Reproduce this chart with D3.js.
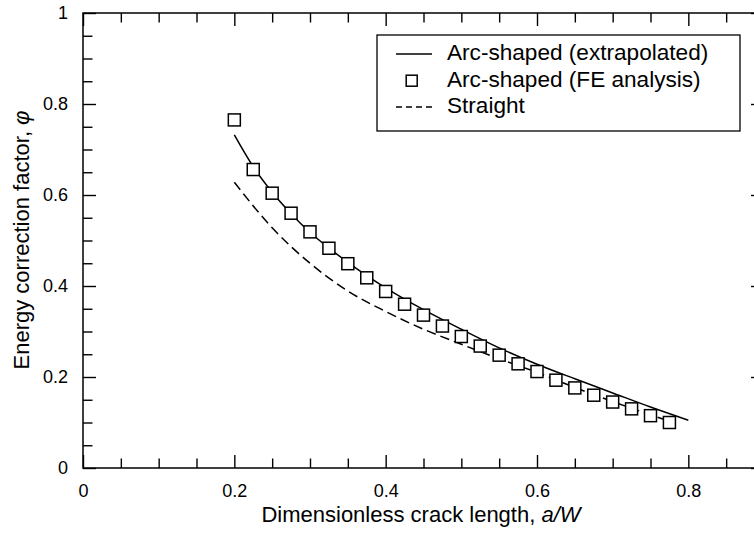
<!DOCTYPE html>
<html>
<head>
<meta charset="utf-8">
<script src="https://cdn.jsdelivr.net/npm/d3@7"></script>
<style>
  body { margin: 0; background: #fff; }
  svg { display: block; }
  text { font-family: "Liberation Sans", Arial, sans-serif; fill: #000; }
</style>
</head>
<body>
<svg id="chart" width="754" height="533"></svg>
<script>
// Arc-shaped crack, FE analysis results
const feX = [0.2, 0.225, 0.25, 0.275, 0.3, 0.325, 0.35, 0.375, 0.4, 0.425, 0.45, 0.475,
             0.5, 0.525, 0.55, 0.575, 0.6, 0.625, 0.65, 0.675, 0.7, 0.725, 0.75, 0.775];
const feY = [0.765, 0.656, 0.604, 0.560, 0.519, 0.483, 0.449, 0.418, 0.388, 0.360, 0.336, 0.312,
             0.289, 0.268, 0.248, 0.229, 0.212, 0.193, 0.176, 0.160, 0.145, 0.130, 0.115, 0.100];

// Arc-shaped crack, extrapolated curve
const arcX = [0.2, 0.225, 0.25, 0.275, 0.3, 0.35, 0.4, 0.45, 0.5, 0.55, 0.6, 0.65, 0.7, 0.75, 0.8];
const arcY = [0.732, 0.662, 0.606, 0.559, 0.518, 0.452, 0.396, 0.348, 0.305, 0.264, 0.228, 0.196, 0.165, 0.134, 0.105];

// Straight crack
const straightX = [0.2, 0.25, 0.3, 0.35, 0.4, 0.45, 0.5, 0.55, 0.6, 0.65, 0.7, 0.75, 0.775];
const straightY = [0.628, 0.528, 0.450, 0.389, 0.344, 0.305, 0.272, 0.240, 0.210, 0.177, 0.146, 0.117, 0.103];

// Axis ticks
const xMajor = [0, 0.2, 0.4, 0.6, 0.8];
const xMajorLabels = ["0", "0.2", "0.4", "0.6", "0.8"];
const xMinor = [0.05, 0.1, 0.15, 0.25, 0.3, 0.35, 0.45, 0.5, 0.55, 0.65, 0.7, 0.75, 0.85];
const yMajor = [0, 0.2, 0.4, 0.6, 0.8, 1];
const yMajorLabels = ["0", "0.2", "0.4", "0.6", "0.8", "1"];
const yMinor = [0.05, 0.1, 0.15, 0.25, 0.3, 0.35, 0.45, 0.5, 0.55, 0.65, 0.7, 0.75, 0.85, 0.9, 0.95];

const legendItems = ["Arc-shaped (extrapolated)", "Arc-shaped (FE analysis)", "Straight"];

const svg = d3.select("#chart");
const L = 83, R = 764, T = 13, B = 468;
const x = d3.scaleLinear().domain([0, 0.9]).range([L, R]);
const y = d3.scaleLinear().domain([0, 1]).range([B, T]);

const majorLen = 13, minorLen = 9.5;

function styleAxis(g) {
  g.select(".domain").remove();
  g.selectAll(".tick line").attr("stroke", "#000").attr("stroke-width", 1.4);
  g.selectAll(".tick text").attr("font-size", 18).attr("fill", "#000")
    .style("font-family", "'Liberation Sans', Arial, sans-serif");
}

// bottom
svg.append("g").attr("transform", `translate(0,${B})`)
  .call(d3.axisBottom(x).tickValues(xMajor).tickFormat((d, i) => xMajorLabels[i])
    .tickSizeInner(-majorLen).tickSizeOuter(0).tickPadding(16))
  .call(styleAxis);
svg.append("g").attr("transform", `translate(0,${B})`)
  .call(d3.axisBottom(x).tickValues(xMinor).tickFormat("").tickSizeInner(-minorLen).tickSizeOuter(0))
  .call(styleAxis);
// top
svg.append("g").attr("transform", `translate(0,${T})`)
  .call(d3.axisTop(x).tickValues(xMajor).tickFormat("").tickSizeInner(-majorLen).tickSizeOuter(0))
  .call(styleAxis);
svg.append("g").attr("transform", `translate(0,${T})`)
  .call(d3.axisTop(x).tickValues(xMinor).tickFormat("").tickSizeInner(-minorLen).tickSizeOuter(0))
  .call(styleAxis);
// left
svg.append("g").attr("transform", `translate(${L},0)`)
  .call(d3.axisLeft(y).tickValues(yMajor).tickFormat((d, i) => yMajorLabels[i])
    .tickSizeInner(-majorLen).tickSizeOuter(0).tickPadding(15))
  .call(styleAxis);
svg.append("g").attr("transform", `translate(${L},0)`)
  .call(d3.axisLeft(y).tickValues(yMinor).tickFormat("").tickSizeInner(-minorLen).tickSizeOuter(0))
  .call(styleAxis);
// right
svg.append("g").attr("transform", `translate(${R},0)`)
  .call(d3.axisRight(y).tickValues(yMajor).tickFormat("").tickSizeInner(-majorLen).tickSizeOuter(0))
  .call(styleAxis);
svg.append("g").attr("transform", `translate(${R},0)`)
  .call(d3.axisRight(y).tickValues(yMinor).tickFormat("").tickSizeInner(-minorLen).tickSizeOuter(0))
  .call(styleAxis);

// frame
svg.append("rect").attr("x", L).attr("y", T).attr("width", R - L).attr("height", B - T)
  .attr("fill", "none").attr("stroke", "#000").attr("stroke-width", 1.5);

const line = d3.line().x(d => x(d[0])).y(d => y(d[1])).curve(d3.curveMonotoneX);

// straight crack (dashed)
svg.append("path").datum(d3.zip(straightX, straightY))
  .attr("d", line).attr("fill", "none").attr("stroke", "#000")
  .attr("stroke-width", 1.5).attr("stroke-dasharray", "9.5,5");

// arc-shaped extrapolated (solid)
svg.append("path").datum(d3.zip(arcX, arcY))
  .attr("d", line).attr("fill", "none").attr("stroke", "#000").attr("stroke-width", 1.5);

// FE analysis squares
const sq = 12;
svg.append("g").selectAll("rect").data(d3.zip(feX, feY)).join("rect")
  .attr("x", d => x(d[0]) - sq / 2).attr("y", d => y(d[1]) - sq / 2)
  .attr("width", sq).attr("height", sq)
  .attr("fill", "#fff").attr("stroke", "#000").attr("stroke-width", 1.5);

// axis titles
const xt = svg.append("text").attr("x", 421).attr("y", 522)
  .attr("text-anchor", "middle").attr("font-size", 22);
xt.append("tspan").text("Dimensionless crack length, ");
xt.append("tspan").attr("font-style", "italic").text("a/W");

const yt = svg.append("text").attr("transform", "translate(29,240) rotate(-90)")
  .attr("text-anchor", "middle").attr("font-size", 22);
yt.append("tspan").text("Energy correction factor, ");
yt.append("tspan").attr("font-style", "italic").text("φ");

// legend
const lg = svg.append("g");
lg.append("rect").attr("x", 377).attr("y", 35).attr("width", 363).attr("height", 96)
  .attr("fill", "#fff").attr("stroke", "#000").attr("stroke-width", 1.3);
const rowY = [54, 80.7, 107];
lg.append("line").attr("x1", 396).attr("x2", 432).attr("y1", rowY[0]).attr("y2", rowY[0])
  .attr("stroke", "#000").attr("stroke-width", 1.5);
lg.append("rect").attr("x", 411.7 - 5.5).attr("y", rowY[1] - 5.5).attr("width", 11).attr("height", 11)
  .attr("fill", "#fff").attr("stroke", "#000").attr("stroke-width", 1.5);
lg.append("line").attr("x1", 396).attr("x2", 432).attr("y1", rowY[2]).attr("y2", rowY[2])
  .attr("stroke", "#000").attr("stroke-width", 1.5).attr("stroke-dasharray", "6,4");
lg.selectAll("text.item").data(legendItems).join("text").attr("class", "item")
  .attr("x", 447).attr("y", (d, i) => rowY[i] + 6).attr("font-size", 22.6).text(d => d);
</script>
</body>
</html>
